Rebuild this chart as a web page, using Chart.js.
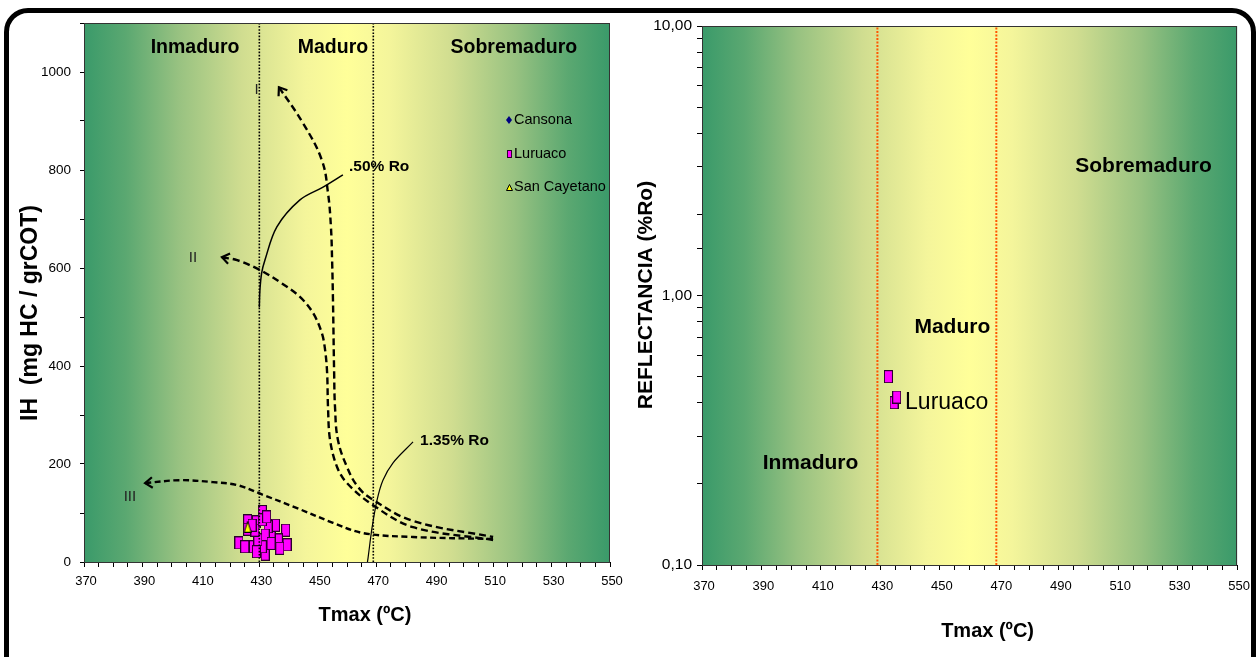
<!DOCTYPE html>
<html>
<head>
<meta charset="utf-8">
<script src="https://cdn.jsdelivr.net/npm/chart.js@4.4.1/dist/chart.umd.min.js"></script>
<style>
html,body{margin:0;padding:0;background:#fff;width:1257px;height:657px;overflow:hidden;}
#left{position:absolute;left:0;top:0;width:630px;height:657px;}
#right{position:absolute;left:630px;top:0;width:627px;height:657px;}
#frame{position:absolute;left:4px;top:8px;width:1242px;height:690px;border:5px solid #000;border-radius:24px;pointer-events:none;z-index:5;}
</style>
</head>
<body>
<div id="left"><canvas id="c1"></canvas></div>
<div id="right"><canvas id="c2"></canvas></div>
<div id="frame"></div>
<script>
// ---------------- data ----------------
const tmaxTickLabels = [370, 390, 410, 430, 450, 470, 490, 510, 530, 550];
const ihTickLabels = [0, 200, 400, 600, 800, 1000];
const roTickLabels = [0.1, 1, 10];

const seriesNames = ['Cansona', 'Luruaco', 'San Cayetano'];

const cansonaTmax = [];
const cansonaIH = [];
const luruacoTmax = [426, 426, 423, 425, 428, 429, 431, 432, 439, 439.5, 436.5, 434, 435.5, 433, 432, 431, 429.5, 428.5, 437, 427.5, 431, 432.5, 434, 429];
const luruacoIH   = [84, 67, 39, 31, 31, 82, 103, 16, 65, 35, 45, 58, 75, 72, 55, 31, 45, 65, 28, 75, 86, 92, 38, 21];
const sanCayetanoTmax = [426];
const sanCayetanoIH = [72];

// kerogen evolution paths (type I, II, III) and iso-reflectance lines
const typeITmax = [436.7, 444.9, 451.4, 453.5, 454.5, 454.9, 455.2, 455.6, 455.9, 456.9, 460, 463.8, 468.9, 482.6, 510];
const typeIIH   = [969, 896, 820, 753, 684, 616, 535, 386, 316, 249, 194, 153, 127, 84, 51];
const typeIITmax = [417.2, 422.4, 430.2, 437.1, 443.9, 448.4, 451.4, 452.5, 453.2, 453.5, 454.2, 456.6, 460, 468.9, 482.6, 510];
const typeIIIH_  = [622, 616, 596, 571, 541, 508, 467, 433, 386, 316, 249, 194, 161, 116, 71, 45];
const typeIIITmax = [390.9, 402.9, 414.1, 422.4, 431.3, 442.9, 455.2, 465.5, 482.6, 510];
const typeIIIIH   = [161, 167, 163, 157, 137, 110, 80, 59, 51, 47];
const ro050Tmax = [458.6, 451.8, 443.9, 436, 431.9, 430.8, 430.2, 430];
const ro050IH   = [790, 765, 739, 684, 616, 590, 555, 520];
const ro135Tmax = [482.6, 475.7, 472.3, 470.3, 468.6, 467.2, 467];
const ro135IH   = [245, 202, 167, 127, 71, 8, 0];

const leftBoundsTmax = [430, 469];
const rightBoundsTmax = [429, 469];

const luruacoRoTmax = [432.7, 434.6, 435.5];
const luruacoRo     = [0.50, 0.40, 0.42];

const zoneNames = ['Inmaduro', 'Maduro', 'Sobremaduro'];
const leftZoneTmax = [408, 455.2, 517.1];
const leftZoneIH = [1049, 1049, 1049];
const rightZoneTmax = [406.5, 454.2, 518.5];
const rightZoneRo = [0.239, 0.764, 3.02];

const curveNames = ['I', 'II', 'III', '.50% Ro', '1.35% Ro'];
const curveLabelTmax = [429.1, 407.3, 385.7, 460.7, 485];
const curveLabelIH = [963, 620, 133, 806, 247];

const axisTitles = { ih: 'IH  (mg HC / grCOT)', tmax: 'Tmax (ºC)', ro: 'REFLECTANCIA (%Ro)' };

// ---------------- helpers ----------------
const FAM = '"Liberation Sans", Arial, Helvetica, sans-serif';
Chart.defaults.font.family = FAM;
Chart.defaults.color = '#000';

function pts(xs, ys) { return xs.map((x, i) => ({ x: x, y: ys[i] })); }
function vline(x, y0, y1) { return [{ x: x, y: y0 }, { x: x, y: y1 }]; }
function rectImg(w, h, fill, stroke) {
  const c = document.createElement('canvas'); c.width = w; c.height = h;
  const g = c.getContext('2d');
  g.fillStyle = fill; g.fillRect(0, 0, w, h);
  g.strokeStyle = stroke; g.lineWidth = 1; g.strokeRect(0.5, 0.5, w - 1, h - 1);
  return c;
}
function triImg(w, h, fill, stroke) {
  const c = document.createElement('canvas'); c.width = w; c.height = h;
  const g = c.getContext('2d');
  g.beginPath(); g.moveTo(w / 2, 0.5); g.lineTo(w - 0.5, h - 0.5); g.lineTo(0.5, h - 0.5); g.closePath();
  g.fillStyle = fill; g.fill(); g.strokeStyle = stroke; g.lineWidth = 1; g.stroke();
  return c;
}
function diamondImg(w, h, fill) {
  const c = document.createElement('canvas'); c.width = w; c.height = h;
  const g = c.getContext('2d');
  g.beginPath(); g.moveTo(w / 2, 0); g.lineTo(w, h / 2); g.lineTo(w / 2, h); g.lineTo(0, h / 2); g.closePath();
  g.fillStyle = fill; g.fill();
  return c;
}

const MAGENTA = '#ff00ff';
const luruacoMarker = rectImg(9, 13, MAGENTA, '#2a002a');
const luruacoMarkerBig = rectImg(9, 13, MAGENTA, '#2a002a');
const sanCayMarker = triImg(8, 12, '#ffff00', '#000');
const cansonaMarker = diamondImg(6, 8, '#000080');

const zoneBackground = {
  id: 'zoneBackground',
  beforeDraw(chart) {
    const { ctx, chartArea: a } = chart;
    const g = ctx.createLinearGradient(a.left, 0, a.right, 0);
    const stops = [[0, '#3a9a6a'], [0.08, '#5ba871'], [0.18, '#98c281'], [0.3, '#d0dd90'],
      [0.42, '#f4f59b'], [0.5, '#ffff99'], [0.58, '#f4f59b'], [0.7, '#d0dd90'],
      [0.82, '#98c281'], [0.92, '#5ba871'], [1, '#3a9a6a']];
    stops.forEach(s => g.addColorStop(s[0], s[1]));
    ctx.save(); ctx.fillStyle = g; ctx.fillRect(a.left, a.top, a.width, a.height); ctx.restore();
  },
  afterDraw(chart) {
    const { ctx, chartArea: a } = chart;
    ctx.save(); ctx.strokeStyle = '#333'; ctx.lineWidth = 1;
    ctx.strokeRect(Math.round(a.left) + 0.5, Math.round(a.top) + 0.5, Math.round(a.width) - 1, Math.round(a.height));
    ctx.restore();
  }
};

function textPlugin(id, items) {
  return {
    id: id,
    afterDatasetsDraw(chart) {
      const ctx = chart.ctx, xs = chart.scales.x, ys = chart.scales.y;
      ctx.save();
      items.forEach(it => {
        ctx.font = it.font;
        ctx.fillStyle = it.color || '#000';
        ctx.textAlign = it.align || 'center';
        ctx.textBaseline = 'middle';
        ctx.fillText(it.text, xs.getPixelForValue(it.x), ys.getPixelForValue(it.y));
      });
      ctx.restore();
    }
  };
}

// axis titles placed relative to the plot area
function axisTitlePlugin(id, xTitle, yTitle) {
  return {
    id: id,
    afterDraw(chart) {
      const { ctx, chartArea: a } = chart;
      ctx.save();
      ctx.fillStyle = '#000'; ctx.textAlign = 'center'; ctx.textBaseline = 'middle';
      ctx.font = 'bold ' + xTitle.size + 'px ' + FAM;
      ctx.fillText(xTitle.text, (a.left + a.right) / 2 + xTitle.dx, a.bottom + xTitle.dy);
      ctx.translate(a.left + yTitle.dx, a.top + yTitle.dy);
      ctx.rotate(-Math.PI / 2);
      ctx.font = 'bold ' + yTitle.size + 'px ' + FAM;
      ctx.fillText(yTitle.text, 0, 0);
      ctx.restore();
    }
  };
}

const arrowPlugin = {
  id: 'arrowPlugin',
  afterDatasetsDraw(chart) {
    const ctx = chart.ctx;
    chart.data.datasets.forEach((ds, i) => {
      if (!ds.arrowStart) return;
      const meta = chart.getDatasetMeta(i);
      const p0 = meta.data[0], p1 = meta.data[1];
      const ang = Math.atan2(p0.y - p1.y, p0.x - p1.x);
      const L = 9, spread = Math.PI / 5;
      ctx.save();
      ctx.strokeStyle = '#000'; ctx.lineWidth = 2.2; ctx.setLineDash([]);
      ctx.beginPath();
      ctx.moveTo(p0.x - L * Math.cos(ang - spread), p0.y - L * Math.sin(ang - spread));
      ctx.lineTo(p0.x, p0.y);
      ctx.lineTo(p0.x - L * Math.cos(ang + spread), p0.y - L * Math.sin(ang + spread));
      ctx.stroke();
      ctx.restore();
    });
  }
};

const legendPlugin = {
  id: 'insideLegend',
  afterDatasetsDraw(chart) {
    const { ctx, chartArea: a } = chart;
    const markers = [cansonaMarker, rectImg(5, 8, MAGENTA, '#2a002a'), triImg(7, 7, '#ffff00', '#000')];
    ctx.save();
    ctx.font = '14.5px ' + FAM;
    ctx.fillStyle = '#000'; ctx.textAlign = 'left'; ctx.textBaseline = 'middle';
    seriesNames.forEach((name, i) => {
      const mx = a.right - 101, my = a.top + 97 + i * 33.5;
      const m = markers[i];
      ctx.drawImage(m, Math.round(mx - m.width / 2), Math.round(my - m.height / 2));
      ctx.fillText(name, mx + 5, my);
    });
    ctx.restore();
  }
};

function pathDs(xs, ys, dash, width, extra) {
  return Object.assign({
    type: 'scatter', data: pts(xs, ys), showLine: true, pointRadius: 0, pointHoverRadius: 0,
    borderColor: '#000', borderWidth: width, borderDash: dash, tension: 0.35, fill: false, order: 3
  }, extra || {});
}

function tickAxis(min, max, step, labels, fontSize, padding, tickLen, fitFn, extraTicks) {
  return {
    type: 'linear', min: min, max: max,
    ticks: Object.assign({ stepSize: step, autoSkip: false, maxRotation: 0, padding: padding, font: { size: fontSize },
      callback: v => labels.includes(v) ? String(v) : '' }, extraTicks || {}),
    grid: { drawOnChartArea: false, drawTicks: true, tickLength: tickLen, color: '#000', tickColor: '#000' },
    border: { display: true, color: '#000', width: 1 },
    title: { display: false },
    afterFit: fitFn
  };
}

// ---------------- left chart ----------------
const leftDatasets = [
  { label: 'limit 1', data: vline(leftBoundsTmax[0], 0, 1100), showLine: true, pointRadius: 0, borderColor: '#000', borderWidth: 1.6, borderDash: [1.6, 1.6], order: 0 },
  { label: 'limit 2', data: vline(leftBoundsTmax[1], 0, 1100), showLine: true, pointRadius: 0, borderColor: '#000', borderWidth: 1.6, borderDash: [1.6, 1.6], order: 0 },
  pathDs(typeITmax, typeIIH, [7, 4], 2.4, { label: 'I', arrowStart: true, tension: 0.4 }),
  pathDs(typeIITmax, typeIIIH_, [7, 4], 2.4, { label: 'II', arrowStart: true }),
  pathDs(typeIIITmax, typeIIIIH, [6, 3.5], 2.4, { label: 'III', arrowStart: true }),
  pathDs(ro050Tmax, ro050IH, [], 1.5, { label: '.50% Ro' }),
  pathDs(ro135Tmax, ro135IH, [], 1.2, { label: '1.35% Ro' }),
  { label: seriesNames[0], data: pts(cansonaTmax, cansonaIH), pointStyle: cansonaMarker, order: 2 },
  { label: seriesNames[1], data: pts(luruacoTmax, luruacoIH), pointStyle: luruacoMarker, pointRadius: 6, order: 2 },
  { label: seriesNames[2], data: pts(sanCayetanoTmax, sanCayetanoIH), pointStyle: sanCayMarker, pointRadius: 6, order: 1 }
];

const leftTexts = [];
zoneNames.forEach((t, i) => leftTexts.push({ text: t, x: leftZoneTmax[i], y: leftZoneIH[i], font: 'bold 19.5px ' + FAM }));
curveNames.forEach((t, i) => {
  const bold = i >= 3;
  leftTexts.push({ text: t, x: curveLabelTmax[i], y: curveLabelIH[i], align: bold ? 'left' : 'center', color: bold ? '#000' : '#222',
    font: (bold ? 'bold 15.5px ' : '15px ') + FAM });
});

new Chart(document.getElementById('c1'), {
  type: 'scatter',
  data: { datasets: leftDatasets },
  options: {
    animation: false, responsive: true, maintainAspectRatio: false, devicePixelRatio: 1,
    layout: { padding: { left: 0, top: 23, right: 20, bottom: 0 } },
    plugins: { legend: { display: false }, tooltip: { enabled: false } },
    scales: {
      x: tickAxis(370, 550, 5, tmaxTickLabels, 13, 7, 5, s => { s.height = 95; }, { labelOffset: 2 }),
      y: tickAxis(0, 1100, 100, ihTickLabels, 13.5, 9, 4, s => { s.width = 84; })
    }
  },
  plugins: [zoneBackground, arrowPlugin, textPlugin('leftTexts', leftTexts), legendPlugin,
    axisTitlePlugin('leftTitles', { text: axisTitles.tmax, size: 20, dx: 18, dy: 53 }, { text: axisTitles.ih, size: 23, dx: -53, dy: 290 })]
});

// ---------------- right chart ----------------
const rightTexts = [];
zoneNames.forEach((t, i) => rightTexts.push({ text: t, x: rightZoneTmax[i], y: rightZoneRo[i], font: 'bold 21px ' + FAM }));
rightTexts.push({ text: seriesNames[1], x: 438.3, y: 0.40, align: 'left', font: '23px ' + FAM });

new Chart(document.getElementById('c2'), {
  type: 'scatter',
  data: {
    datasets: [
      { label: 'limit 1', data: vline(rightBoundsTmax[0], 0.1, 10), showLine: true, pointRadius: 0, borderColor: '#ff5500', borderWidth: 2, borderDash: [2, 1.5], order: 0 },
      { label: 'limit 2', data: vline(rightBoundsTmax[1], 0.1, 10), showLine: true, pointRadius: 0, borderColor: '#ff5500', borderWidth: 2, borderDash: [2, 1.5], order: 0 },
      { label: seriesNames[1], data: pts(luruacoRoTmax, luruacoRo), pointStyle: luruacoMarkerBig, pointRadius: 6, order: 1 }
    ]
  },
  options: {
    animation: false, responsive: true, maintainAspectRatio: false, devicePixelRatio: 1,
    layout: { padding: { left: 0, top: 26, right: 15, bottom: 0 } },
    plugins: { legend: { display: false }, tooltip: { enabled: false } },
    scales: {
      x: tickAxis(370, 550, 5, tmaxTickLabels, 13, 9, 5, s => { s.height = 92; }, { labelOffset: 2 }),
      y: {
        type: 'logarithmic', min: 0.1, max: 10,
        ticks: { autoSkip: false, padding: 5, font: { size: 15.5 },
          callback: v => {
            const l = Math.log10(v);
            return roTickLabels.some(r => Math.abs(Math.log10(r) - l) < 1e-6) ? v.toFixed(2).replace('.', ',') : '';
          } },
        grid: { drawOnChartArea: false, drawTicks: true, tickLength: 5, color: '#000', tickColor: '#000' },
        border: { display: true, color: '#000', width: 1 },
        title: { display: false },
        afterFit(s) { s.width = 72; }
      }
    }
  },
  plugins: [zoneBackground, textPlugin('rightTexts', rightTexts),
    axisTitlePlugin('rightTitles', { text: axisTitles.tmax, size: 20, dx: 18, dy: 66 }, { text: axisTitles.ro, size: 21, dx: -56, dy: 269 })]
});
</script>
</body>
</html>
